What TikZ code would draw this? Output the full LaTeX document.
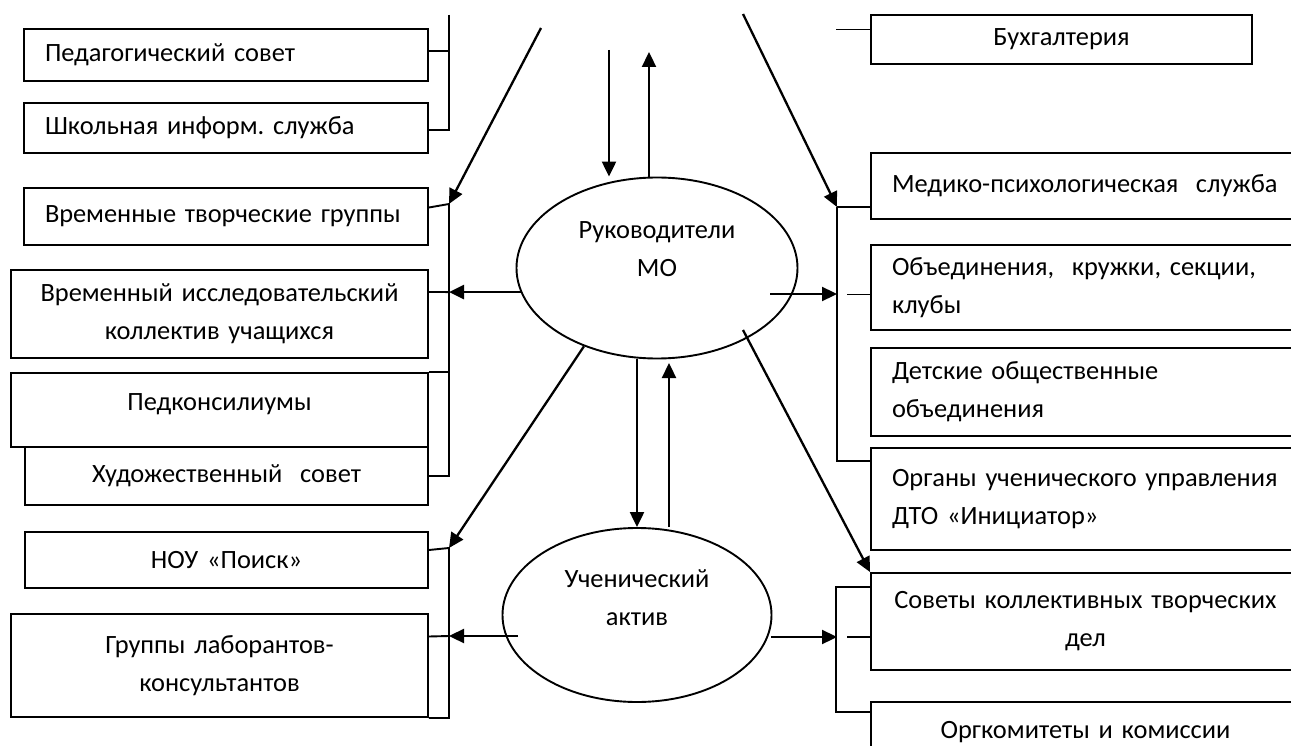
\documentclass[tikz,border=0pt]{standalone}
\usepackage{fontspec}
\setmainfont{Carlito}
\frenchspacing
\usetikzlibrary{arrows.meta,shapes.geometric}

\tikzset{
  box/.style={draw, line width=1.9pt, inner xsep=21pt, inner ysep=0pt},
  oval/.style={draw, ellipse, line width=1.9pt, inner sep=0pt},
  link/.style={line width=1.9pt},
  arr/.style={line width=2.3pt, -{Triangle[length=15pt,width=14pt]}},
}

\begin{document}
\begin{tikzpicture}[x=1pt, y=-1pt, font=\fontsize{26.4}{38}\selectfont]
\path[use as bounding box, clip] (0,0) rectangle (1291,746);

% left column
\node[box, text width=362, align=left, minimum height=52] (ped) at (226,55) {Педагогический совет};
\node[box, text width=362, align=left, minimum height=50] (shk) at (226,128) {Школьная информ. служба};
\node[box, text width=362, align=left, minimum height=57] (vtg) at (226,216.5) {Временные творческие группы};
\node[box, text width=375, align=center, minimum height=88] (vik) at (219.5,314) {Временный исследовательский\\коллектив учащихся};
\node[box, text width=375, minimum height=74] (pedk) at (219.5,410) {};
\node (pedkt) at (219.5,404) {Педконсилиумы};
\node[box, text width=361, align=center, minimum height=58] (hud) at (226.5,476) {Художественный\ \ совет};
\node[box, text width=361, align=center, minimum height=56] (nou) at (226.5,560) {НОУ «Поиск»};
\node[box, text width=375, align=center, minimum height=103] (grl) at (219.5,665.5) {Группы лаборантов-\\консультантов};

% centre
\node[oval, minimum width=281, minimum height=181] (ruk) at (657,268) {};
\node[align=center] (rukt) at (657,249) {Руководители\\МО};
\node[oval, minimum width=269, minimum height=174] (uch) at (637,615) {};
\node[align=center] (ucht) at (637,597.5) {Ученический\\актив};

% right column
\node[box, text width=339, align=center, minimum height=49] (buh) at (1061.5,39.5) {Бухгалтерия};
\node[box, text width=400, align=left, minimum height=66] (med) at (1092,186) {Медико-психологическая\ \ служба};
\node[box, text width=400, align=left, minimum height=85] (obd) at (1092,287.5) {Объединения,\ \ кружки, секции,\\клубы};
\node[box, text width=400, align=left, minimum height=88] (det) at (1092,392) {Детские общественные\\объединения};
\node[box, text width=400, align=left, minimum height=102] (org) at (1092,499) {Органы ученического управления\\ДТО «Инициатор»};
\node[box, text width=387, align=center, minimum height=97] (sov) at (1085.5,621.5) {Советы коллективных творческих\\дел};
\node[box, text width=387, align=center, minimum height=60] (ork) at (1085.5,732) {Оргкомитеты и комиссии};

\coordinate (lt) at (449,15);
\coordinate (lm) at (449,204);
\coordinate (lb) at (449,548);
\coordinate (tl) at (541,28);
\coordinate (tr) at (743,14);
\coordinate (rm) at (837,207);
\coordinate (ta) at (609,50);
\coordinate (ua) at (649,52);
\coordinate (ma) at (669,363);
\coordinate (rukr) at (770,294);
\coordinate (ruks) at (743,330);
\coordinate (ucl) at (518,636);
\coordinate (ucr) at (771,637);

% left brackets
\draw[link] (lt) |- ([yshift=4pt]ped.east);
\draw[link] (lt) |- ([yshift=-2pt]shk.east);
\draw[link] ([yshift=9pt]vtg.east) -- (lm) |- (hud.east);
\draw[link] ([yshift=22pt]vik.east) -- (ruk.190 -| lm);
\draw[link] (pedk.north east) -- (pedk.north east -| lm);
\draw[link] ([yshift=10pt]nou.east) -- (lb) -- (lb |- grl.south) -- (grl.south east);
\draw[link] ([yshift=29pt]grl.east) -- (ucl -| lb);

% arrows
\draw[arr] (tl) -- (lm);
\draw[arr] (ruk.190) -- (ruk.190 -| lm);
\draw[arr] (ruk.227) -- (lb);
\draw[arr] (ucl) -- (ucl -| lb);
\draw[arr] (ta) -- (ta |- ruk.north);
\draw[arr] (ua |- ruk.north) -- (ua);
\draw[arr] (ruk.south -| uch.north) -- (uch.north);
\draw[arr] (ma |- uch.north) -- (ma);
\draw[arr] (tr) -- (rm);
\draw[arr] (rukr) -- (rukr -| rm);
\draw[arr] (ruks) -- (sov.north west);
\draw[arr] (ucr) -- (ucr -| rm);

% right brackets
\draw[link] ([yshift=10pt]buh.west) -- ++(-34,0);
\draw[link] (rm) -- (rm -| med.west);
\draw[link] (rm) |- ([yshift=-14pt]org.north west);
\draw[link] ([yshift=-7pt]obd.west) -- ++(-23,0);
\draw[link] ([yshift=-15pt]sov.north west) -- ++(-34,0) |- ([yshift=-11pt]ork.north west);
\draw[link] (ucr -| sov.west) -- ++(-23,0);
\end{tikzpicture}
\end{document}
